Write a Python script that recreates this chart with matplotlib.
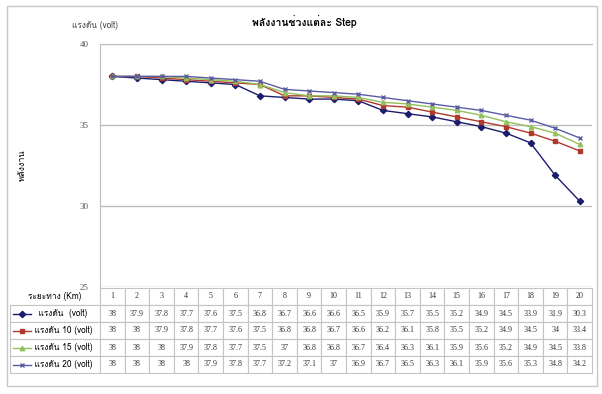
import matplotlib
matplotlib.use("Agg")
import matplotlib.pyplot as plt
from matplotlib import font_manager
from matplotlib.ft2font import FT2Font
from matplotlib.lines import Line2D

distance = list(range(1, 21))
series_names = ["แรงดัน  (volt)", "แรงดัน 10 (volt)", "แรงดัน 15 (volt)", "แรงดัน 20 (volt)"]
volt_5 = [38, 37.9, 37.8, 37.7, 37.6, 37.5, 36.8, 36.7, 36.6, 36.6,
          36.5, 35.9, 35.7, 35.5, 35.2, 34.9, 34.5, 33.9, 31.9, 30.3]
volt_10 = [38, 38, 37.9, 37.8, 37.7, 37.6, 37.5, 36.8, 36.8, 36.7,
           36.6, 36.2, 36.1, 35.8, 35.5, 35.2, 34.9, 34.5, 34, 33.4]
volt_15 = [38, 38, 38, 37.9, 37.8, 37.7, 37.5, 37, 36.8, 36.8,
           36.7, 36.4, 36.3, 36.1, 35.9, 35.6, 35.2, 34.9, 34.5, 33.8]
volt_20 = [38, 38, 38, 38, 37.9, 37.8, 37.7, 37.2, 37.1, 37,
           36.9, 36.7, 36.5, 36.3, 36.1, 35.9, 35.6, 35.3, 34.8, 34.2]
all_series = [volt_5, volt_10, volt_15, volt_20]
y_ticks = [25, 30, 35, 40]

colors = ["#1c1c6e", "#b0392e", "#92c05a", "#5b5ba3"]
markers = ["D", "s", "^", "x"]

# find a font that has Thai glyphs, fall back to DejaVu
thai = []
for f in font_manager.fontManager.ttflist:
    try:
        if 0x0E01 in FT2Font(f.fname).get_charmap() and f.name not in thai:
            thai.append(f.name)
    except Exception:
        pass
fam = thai[:1] + ["DejaVu Sans"]
plt.rcParams["font.family"] = fam

W, H = 602, 394
fig = plt.figure(figsize=(W / 100, H / 100), dpi=100)

# outer chart border
fig.patches.append(plt.Rectangle((7 / W, 1 - 386 / H), 590 / W, 380 / H,
                                 transform=fig.transFigure, fill=False,
                                 edgecolor="#c8c8c8", lw=1))

x0, x1, ytop, ybot = 100, 592, 44, 287
ax = fig.add_axes([x0 / W, 1 - ybot / H, (x1 - x0) / W, (ybot - ytop) / H])

for vals, c, m in zip(all_series, colors, markers):
    ax.plot(distance, vals, color=c, lw=1, marker=m, ms=3.2, mew=1)

ax.set_xlim(0.5, 20.5)
ax.set_ylim(25, 40)
ax.set_yticks(y_ticks)
ax.set_yticklabels([str(t) for t in y_ticks], fontsize=6.5, color="#555555",
                   family=["Liberation Serif"])
ax.set_xticks([])
ax.grid(axis="y", color="#bdbdbd", lw=1)
ax.set_axisbelow(True)
ax.tick_params(axis="y", length=0, pad=8)
for s in ["right", "bottom"]:
    ax.spines[s].set_visible(False)
ax.spines["left"].set_color("#bdbdbd")
ax.spines["top"].set_color("#bdbdbd")

# data table under the plot
rows = [["ระยะทาง (Km)"] + [str(d) for d in distance]]
for name, vals in zip(series_names, all_series):
    rows.append(["      " + name] + [f"{v:g}" for v in vals])

tl, tr, tt, tb = 10, 592, 288, 373
pw, ph = x1 - x0, ybot - ytop
bbox = [(tl - x0) / pw, -(tb - ybot) / ph, (tr - tl) / pw, (tb - tt) / ph]
col_w = [90] + [(tr - tl - 90) / 20] * 20
tab = ax.table(cellText=rows, colWidths=col_w, bbox=bbox, cellLoc="center")
tab.auto_set_font_size(False)
for (r, c), cell in tab.get_celld().items():
    cell.set_edgecolor("#c4c4c4")
    cell.set_linewidth(0.8)
    if c == 0:
        cell.get_text().set_fontsize(6)
        cell.get_text().set_family(fam)
        cell._loc = "left"
        cell.PAD = 0.02
    else:
        cell.get_text().set_fontsize(5.8)
        cell.get_text().set_family(["Liberation Serif"])
        cell.get_text().set_color("#333333")
tab[0, 0].visible_edges = "BR"

# legend keys in the row label cells
row_h = (tb - tt) / 5
for i, (c, m) in enumerate(zip(colors, markers)):
    yc = tt + row_h * (i + 1.5)
    ya = (ybot - yc) / ph
    xa = [(13 - x0) / pw, (22 - x0) / pw, (31 - x0) / pw]
    ax.add_line(Line2D(xa, [ya] * 3, transform=ax.transAxes, color=c, lw=1,
                       clip_on=False))
    ax.add_line(Line2D([xa[1]], [ya], transform=ax.transAxes, color=c,
                       marker=m, ms=3.2, clip_on=False))

fig.text(304 / W, 1 - 22 / H, "พลังงานช่วงแต่ละ Step", ha="center", va="center",
         fontsize=7.5, fontweight="bold")
fig.text(95 / W, 1 - 25 / H, "แรงดัน (volt)", ha="center", va="center",
         fontsize=6, color="#444444")
fig.text(22 / W, 1 - 165 / H, "พลังงาน", ha="center", va="center",
         fontsize=6.5, rotation=90)

fig.savefig("out.png", dpi=100)
